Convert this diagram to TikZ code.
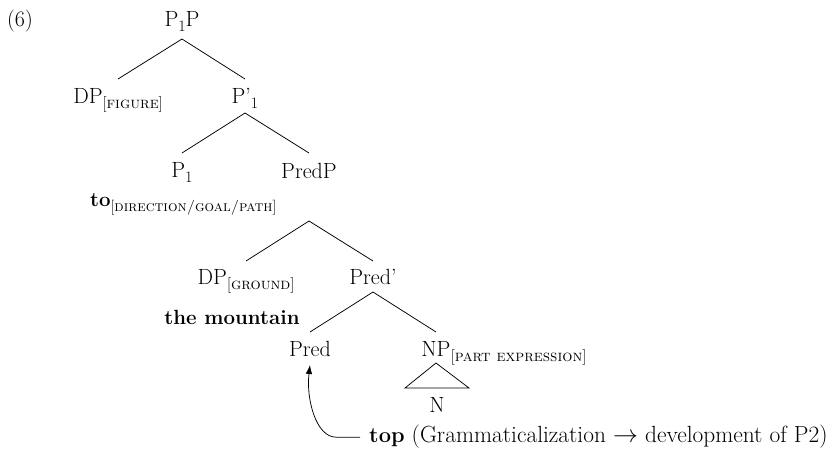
\documentclass[tikz,border=0pt]{standalone}
\usetikzlibrary{arrows.meta}
% lowered, smaller subscript and bracketed small-caps feature label
\newcommand\subtxt[2][16]{\raisebox{-5pt}{\fontsize{#1}{#1}\selectfont #2}}
\newcommand\feat[2][16]{\subtxt[#1]{[\textsc{#2}]}}
\newcommand\bfword[2][20.5]{{\fontsize{#1}{24}\selectfont\textbf{#2}}}

\begin{document}
\begin{tikzpicture}[x=1pt,y=-1pt,
  lab/.style={inner sep=0pt, anchor=base, font=\fontsize{22}{26}\selectfont},
  branch/.style={line width=0.75pt},
  arr/.style={line width=0.75pt, -{Latex[length=9pt,width=6.5pt]}}]
\useasboundingbox (0,0) rectangle (829,450);

% example number
\node[lab] (ex) at (20,26) {(6)};

% tree labels
\node[lab] (p1p) at (182,26) {P\subtxt{1}P};
\node[lab] (dpfig) at (118,103) {DP\feat{figure}};
\node[lab] (p1bar) at (245,103) {P’\subtxt{1}};
\node[lab] (p1) at (182,177) {P\subtxt{1}};
\node[lab] (predp) at (309,178) {PredP};
\node[lab, anchor=base west] (to) at (90,206)
  {\bfword{to}\feat[15]{direction/goal/path}};
\node[lab] (dpgr) at (246,284) {DP\feat{ground}};
\node[lab] (predbar) at (373,284) {Pred’};
\node[lab] (mtn) at (232,324) {\bfword{the mountain}};
\node[lab] (pred) at (310,356) {Pred};
\node[lab] (np) at (436,356) {NP};
\node[lab, anchor=base west] (npsub) at (np.base east) {\feat{part expression}};
\node[lab] (n) at (437,412) {N};
\node[lab, anchor=base west, font=\fontsize{23.4}{27}\selectfont] (gram) at (369,442)
  {\bfword[21.8]{top} (Grammaticalization $\rightarrow$ development of P2)};

% branches
\draw[branch] ([yshift=-13pt]p1p.base) -- ([yshift=24pt]dpfig.base);
\draw[branch] ([yshift=-13pt]p1p.base) -- ([yshift=24pt]p1bar.base);
\draw[branch] ([yshift=-10pt]p1bar.base) -- ([yshift=24pt]p1.base);
\draw[branch] ([yshift=-10pt]p1bar.base) -- ([yshift=25pt]predp.base);
\draw[branch] ([yshift=-43pt]predp.base) -- ([yshift=23pt]dpgr.base);
\draw[branch] ([yshift=-43pt]predp.base) -- ([yshift=23pt]predbar.base);
\draw[branch] ([yshift=-8pt]predbar.base) -- ([yshift=24pt]pred.base);
\draw[branch] ([yshift=-8pt]predbar.base) -- ([yshift=24pt]np.base);

% triangle over N
\draw[branch] ([yshift=-7pt]np.base) -- ([xshift=-32pt,yshift=24pt]n.base)
  -- ([xshift=32pt,yshift=24pt]n.base) -- cycle;

% grammaticalization arrow
\draw[arr] ([xshift=-9pt,yshift=-1pt]gram.west) -- ++(-24pt,0pt)
  .. controls +(-20pt,0pt) and +(-4pt,-34pt) .. ([yshift=-9pt]pred.base);
\end{tikzpicture}
\end{document}
